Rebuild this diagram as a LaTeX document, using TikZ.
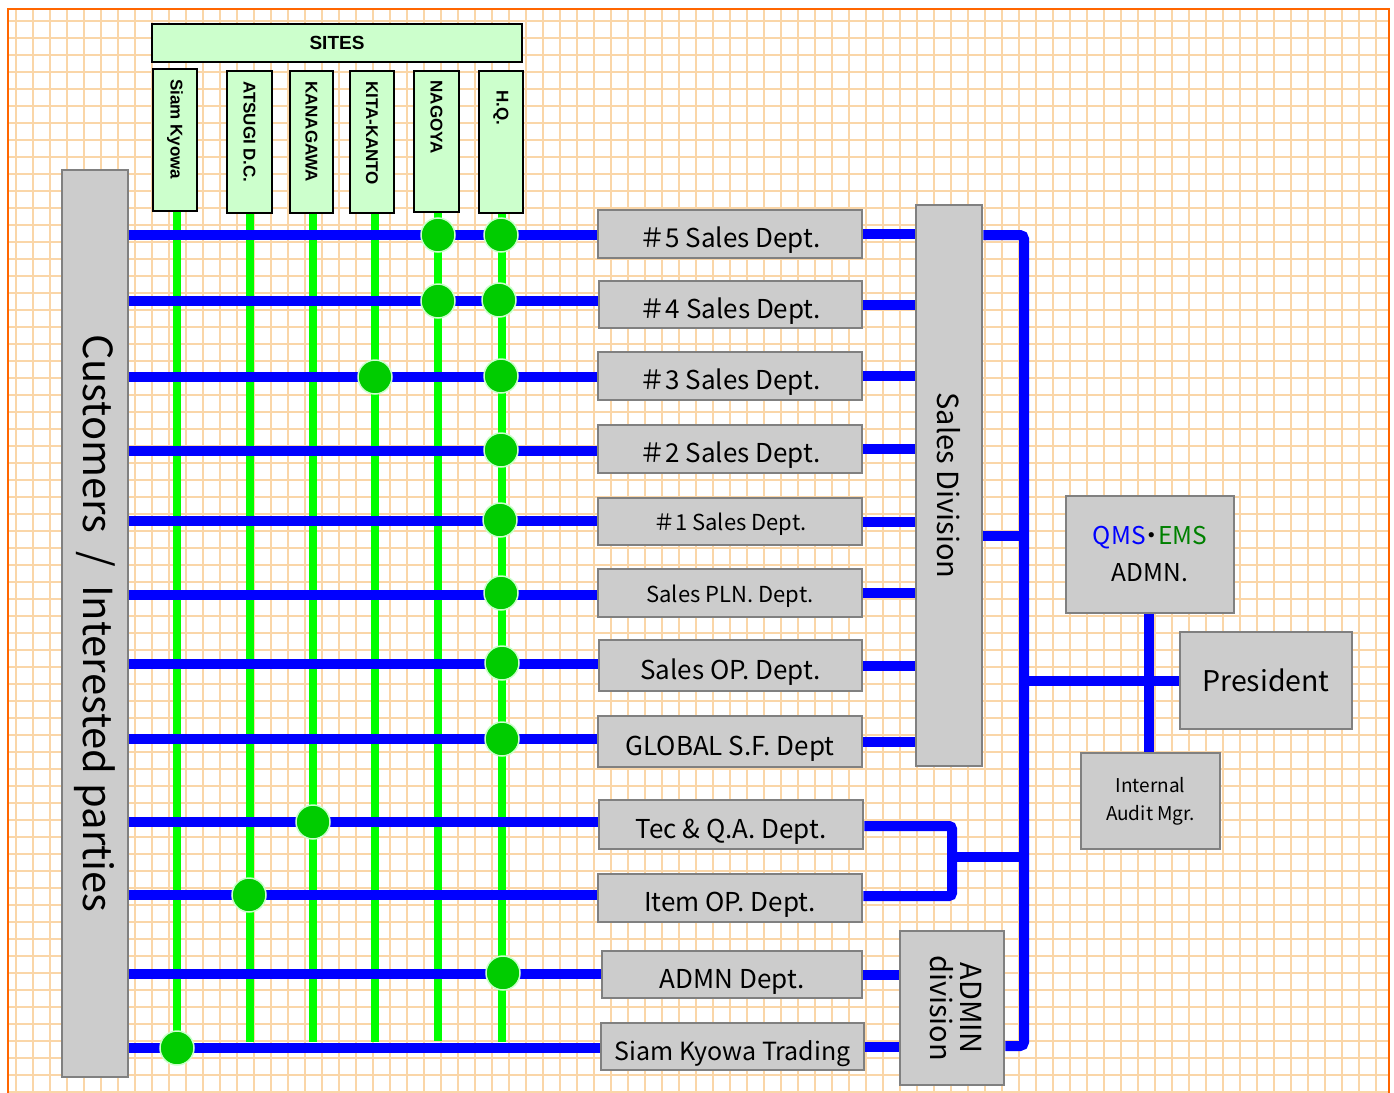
\documentclass[tikz,border=0pt]{standalone}
\usepackage{fontspec}
\setmainfont{Noto Sans CJK JP}
\newfontfamily\sitefont{Liberation Sans}
\definecolor{gridc}{RGB}{250,214,168}
\definecolor{bord}{RGB}{255,102,0}
\definecolor{boxg}{RGB}{204,204,204}
\definecolor{boxd}{RGB}{128,128,128}
\definecolor{sitef}{RGB}{204,255,204}
\definecolor{lgreen}{RGB}{0,255,0}
\definecolor{dgreen}{RGB}{0,204,0}
\definecolor{emsg}{RGB}{0,128,0}
\definecolor{bl}{RGB}{0,0,255}
\newcommand\rot[1]{\rotatebox{-90}{#1}}
\newcommand\siterot[1]{\rotatebox{-90}{\makebox[122pt][l]{#1}}}
\pgfdeclarelayer{gridlayer}
\pgfdeclarelayer{linelayer}
\pgfsetlayers{gridlayer,linelayer,main}
\begin{document}
\begin{tikzpicture}[x=1pt,y=-1pt,
 gbox/.style={draw=boxd, fill=boxg, line width=2.5pt, inner sep=0pt, align=center},
 sbox/.style={draw=black, fill=sitef, line width=2.5pt, inner sep=0pt, font=\sitefont\bfseries\fontsize{17}{20}\selectfont},
 blueline/.style={draw=bl, line width=10pt},
 greenline/.style={draw=lgreen, line width=8pt},
 dot/.style={circle, fill=dgreen, draw=sitef, line width=1.5pt, minimum size=34pt, inner sep=0pt},
 big/.style={font=\fontsize{26}{30}\selectfont, text height=27pt, text depth=0pt},
 small/.style={font=\fontsize{22}{26}\selectfont, text height=18pt, text depth=0pt},
]
\useasboundingbox (0,0) rectangle (1394,1092);
\begin{pgfonlayer}{gridlayer}
\fill[white] (0,0) rectangle (1394,1092);
\foreach \x in {16,33,...,1389} \draw[gridc, line width=2.4pt] (\x,9) -- (\x,1092);
\foreach \y in {21,38,...,1092} \draw[gridc, line width=2.4pt] (8,\y) -- (1389,\y);
\draw[bord, line width=2.5pt] (8,1093) -- (8,9) -- (1389,9) -- (1389,1093);
\end{pgfonlayer}

% site boxes
\node[sbox, minimum width=370pt, minimum height=38pt, font=\sitefont\bfseries\fontsize{19}{22}\selectfont] (sites) at (337,43) {SITES};
\node[sbox, minimum width=44pt, minimum height=142pt] (s1) at (175,140) {\siterot{Siam Kyowa}};
\node[sbox, minimum width=45pt, minimum height=142pt] (s2) at (249.5,142) {\siterot{ATSUGI D.C.}};
\node[sbox, minimum width=43pt, minimum height=142pt] (s3) at (311.5,142) {\siterot{KANAGAWA}};
\node[sbox, minimum width=44pt, minimum height=142pt] (s4) at (372,142) {\siterot{KITA-KANTO}};
\node[sbox, minimum width=45pt, minimum height=141pt] (s5) at (436.5,141.5) {\siterot{NAGOYA}};
\node[sbox, minimum width=44pt, minimum height=142pt] (s6) at (501,142) {\siterot{\ \ H.Q.}};

% customers
\node[gbox, minimum width=66pt, minimum height=907pt, font=\fontsize{40}{44}\selectfont] (cust) at (95,623.5) {\rot{Customers\ \ /\ \ Interested parties}};

% departments
\node[gbox, big, minimum width=264pt, minimum height=48pt] (d5) at (730,234) {＃5 Sales Dept.};
\node[gbox, big, minimum width=263pt, minimum height=47pt] (d4) at (730.5,304.5) {＃4 Sales Dept.};
\node[gbox, big, minimum width=264pt, minimum height=48pt] (d3) at (730,376) {＃3 Sales Dept.};
\node[gbox, big, minimum width=264pt, minimum height=48pt] (d2) at (730,449) {＃2 Sales Dept.};
\node[gbox, small, minimum width=264pt, minimum height=47pt] (d1) at (730,521.5) {＃1 Sales Dept.};
\node[gbox, small, minimum width=264pt, minimum height=48pt] (dp) at (730,593) {Sales PLN. Dept.};
\node[gbox, big, minimum width=263pt, minimum height=51pt] (dop) at (730.5,665.5) {Sales OP. Dept.};
\node[gbox, big, minimum width=264pt, minimum height=51pt] (dg) at (730,741.5) {GLOBAL S.F. Dept};
\node[gbox, big, minimum width=264pt, minimum height=49pt] (dt) at (731,824.5) {Tec \& Q.A. Dept.};
\node[gbox, big, minimum width=264pt, minimum height=48pt] (di) at (730,898) {Item OP. Dept.};
\node[gbox, big, minimum width=260pt, minimum height=47pt] (da) at (732,974.5) {ADMN Dept.};
\node[gbox, big, minimum width=263pt, minimum height=47pt, font=\fontsize{25}{30}\selectfont] (dsk) at (732.5,1046.5) {Siam Kyowa Trading};

% divisions and management
\node[gbox, minimum width=66pt, minimum height=561pt, font=\fontsize{29}{33}\selectfont] (sd) at (949,485.5) {\rot{Sales Division}};
\node[gbox, minimum width=104pt, minimum height=154pt, font=\fontsize{29}{33}\selectfont] (ad) at (952,1008) {\rot{\begin{tabular}{@{}c@{}}ADMIN\\[-3pt]division\end{tabular}}};
\node[gbox, minimum width=168pt, minimum height=117pt, font=\fontsize{24.5}{37}\selectfont] (qms) at (1150,554.5) {{\color{bl}QMS}\kern-6pt・\kern-6pt{\color{emsg}EMS}\\ADMN.};
\node[gbox, minimum width=172pt, minimum height=97pt, font=\fontsize{28.5}{32}\selectfont] (pres) at (1266,680.5) {President};
\node[gbox, minimum width=139pt, minimum height=96pt, font=\fontsize{19}{28}\selectfont] (aud) at (1150.5,801) {Internal\\Audit Mgr.};

% row coordinates
\foreach \n/\y in {1/235,2/301,3/377,4/451,5/521,6/595,7/664,8/739,9/822,10/895,11/974,12/1048}
  \coordinate (r\n) at (0,\y);
\coordinate (bt) at (952,826);
\coordinate (bb) at (952,896);
\coordinate (bm) at (952,857);
\coordinate (bus1) at (1024,235);
\coordinate (bus2) at (1024,1046);
\coordinate (busp) at (1024,681);
\coordinate (busq) at (1024,536);

\begin{pgfonlayer}{linelayer}
% green site lines
\draw[greenline] ([xshift=2pt]s1.south) -- ++(0,835);
\draw[greenline] ([xshift=0.5pt]s2.south) -- ++(0,828);
\draw[greenline] ([xshift=1.5pt]s3.south) -- ++(0,828);
\draw[greenline] ([xshift=3pt]s4.south) -- ++(0,828);
\draw[greenline] ([xshift=1.5pt]s5.south) -- ++(0,828);
\draw[greenline] ([xshift=0.5pt]s6.south) -- ++(0,828);
% blue lines left
\foreach \n/\d in {1/d5,2/d4,3/d3,4/d2,5/d1,6/dp,7/dop,8/dg,9/dt,10/di,11/da,12/dsk}
  \draw[blueline] (cust.east |- r\n) -- (\d.west |- r\n);
% blue lines right to sales division
\foreach \d in {d5,d4,d3,d2,d1,dp,dop,dg}
  \draw[blueline] (\d.east) -- (sd.west |- \d.east);
\draw[blueline] (da.east) -- (ad.west |- da.east);
\draw[blueline] (dsk.east) -- (ad.west |- dsk.east);
% bracket for Tec & Item
\draw[blueline, rounded corners=3pt] (dt.east |- bt) -- (bt) -- (bb) -- (di.east |- bb);
% main bus
\draw[blueline, rounded corners=4pt] (sd.east |- bus1) -- (bus1) -- (bus2) -- (ad.east |- bus2);
\draw[blueline] (sd.east |- busq) -- (busq);
\draw[blueline] (bm) -- (bm -| bus1);
\draw[blueline] (busp) -- (pres.west |- busp);
\draw[blueline] ([xshift=-1pt]qms.south) -- ([xshift=-1.5pt]aud.north);
\end{pgfonlayer}

% dots
\node[dot] (c1) at (438,235) {};
\node[dot] (c2) at (501,235) {};
\node[dot] (c3) at (438,301) {};
\node[dot] (c4) at (499,300) {};
\node[dot] (c5) at (375,377) {};
\node[dot] (c6) at (501,376) {};
\node[dot] (c7) at (501,450) {};
\node[dot] (c8) at (500,520) {};
\node[dot] (c9) at (501,593) {};
\node[dot] (c10) at (502,663) {};
\node[dot] (c11) at (502,739) {};
\node[dot] (c12) at (313,822) {};
\node[dot] (c13) at (249,895) {};
\node[dot] (c14) at (503,973) {};
\node[dot] (c15) at (177,1048) {};
\end{tikzpicture}
\end{document}
